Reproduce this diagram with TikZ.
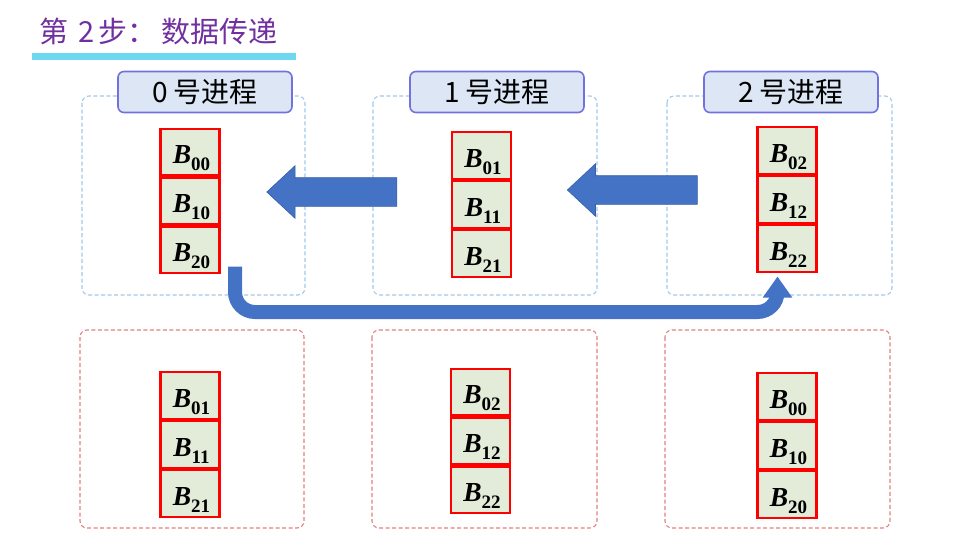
\documentclass[tikz,border=0pt]{standalone}
\usepackage{fontspec}
\setmainfont{Liberation Serif}
\newfontfamily\cjk{Noto Sans CJK SC}
\usetikzlibrary{shapes.arrows,arrows.meta}
\definecolor{titlepurple}{HTML}{7030A0}
\definecolor{barcyan}{HTML}{6ED8F2}
\definecolor{hdrfill}{HTML}{DCE6F4}
\definecolor{hdrdraw}{HTML}{7272DE}
\definecolor{cellfill}{HTML}{E3ECD9}
\definecolor{bluedash}{HTML}{A3C8EA}
\definecolor{reddash}{HTML}{E08080}
\definecolor{arrowblue}{HTML}{4472C4}
\definecolor{arrowedge}{HTML}{3760A8}
\newcommand{\bsub}[1]{\hspace*{3pt}\raisebox{-12pt}[0pt][0pt]{{\fontsize{27.5}{27.5}\selectfont\bfseries\itshape B}\raisebox{-7pt}{\fontsize{19}{19}\selectfont\bfseries #1}}}
\tikzset{
  cellbox/.style={draw=red, line width=2.2pt, fill=cellfill, minimum width=59pt, minimum height=46.7pt, inner sep=0pt, anchor=north},
  procbox/.style={draw=bluedash, dashed, dash pattern=on 4pt off 2.5pt, line width=1.1pt, rounded corners=7pt},
  resbox/.style={draw=reddash, dashed, dash pattern=on 4pt off 2.5pt, line width=1.1pt, rounded corners=7pt},
  hdrbox/.style={draw=hdrdraw, fill=hdrfill, line width=1.6pt, rounded corners=6pt, minimum width=174pt, minimum height=41pt, inner sep=0pt, font=\cjk\fontsize{28}{28}\selectfont},
  leftarrow/.style={single arrow, shape border rotate=180, fill=arrowblue, draw=arrowedge, line width=0.6pt, inner sep=14pt, single arrow head extend=12pt, single arrow tip angle=86, minimum height=130pt},
}
\begin{document}
\begin{tikzpicture}[x=1pt,y=-1pt]
\useasboundingbox (0,0) rectangle (980,551);
% title
\node[anchor=west, text=titlepurple, font=\cjk\fontsize{29}{29}\selectfont, inner sep=0pt] (title) at (39,31) {第\hspace{10pt}2\hspace{4pt}步：\hspace{5pt}数据传递};
\draw[barcyan, line width=7pt] (32,56.5) -- (296,56.5);
% process boxes
\draw[procbox] (82,96) rectangle (305,295);
\draw[procbox] (373,96) rectangle (597,295);
\draw[procbox] (667,96) rectangle (892,295);
% result boxes
\draw[resbox] (80,330) rectangle (304,528);
\draw[resbox] (372,330) rectangle (597,528);
\draw[resbox] (665,330) rectangle (890,528);
% headers
\node[hdrbox] (h0) at (205,92) {0 号进程};
\node[hdrbox] (h1) at (497,92) {1 号进程};
\node[hdrbox] (h2) at (791,92) {2 号进程};
% top cells
\node[cellbox] (a00) at (190,127.5) {\bsub{00}};
\node[cellbox] (a10) at (a00.south) {\bsub{10}};
\node[cellbox] (a20) at (a10.south) {\bsub{20}};
\node[cellbox] (a01) at (481.5,131) {\bsub{01}};
\node[cellbox] (a11) at (a01.south) {\bsub{11}};
\node[cellbox] (a21) at (a11.south) {\bsub{21}};
\node[cellbox] (a02) at (787,126) {\bsub{02}};
\node[cellbox] (a12) at (a02.south) {\bsub{12}};
\node[cellbox] (a22) at (a12.south) {\bsub{22}};
% bottom cells
\node[cellbox] (b01) at (190,371) {\bsub{01}};
\node[cellbox] (b11) at (b01.south) {\bsub{11}};
\node[cellbox] (b21) at (b11.south) {\bsub{21}};
\node[cellbox] (b02) at (480.5,367.5) {\bsub{02}};
\node[cellbox] (b12) at (b02.south) {\bsub{12}};
\node[cellbox] (b22) at (b12.south) {\bsub{22}};
\node[cellbox] (b00) at (787,372) {\bsub{00}};
\node[cellbox] (b10) at (b00.south) {\bsub{10}};
\node[cellbox] (b20) at (b10.south) {\bsub{20}};
% block arrows
\node[leftarrow] (arr1) at (339.5,192) {};
\node[leftarrow] (arr2) at (640,190) {};
% bent arrow
\coordinate (bstart) at (235,266.5);
\coordinate (bend) at (777.5,276.5);
\draw[arrowblue, line width=14pt, rounded corners=20pt, -{Triangle[width=28pt,length=21pt]}]
  (bstart) -- (235,312) -- (777.5,312) -- (bend);
\end{tikzpicture}
\end{document}
